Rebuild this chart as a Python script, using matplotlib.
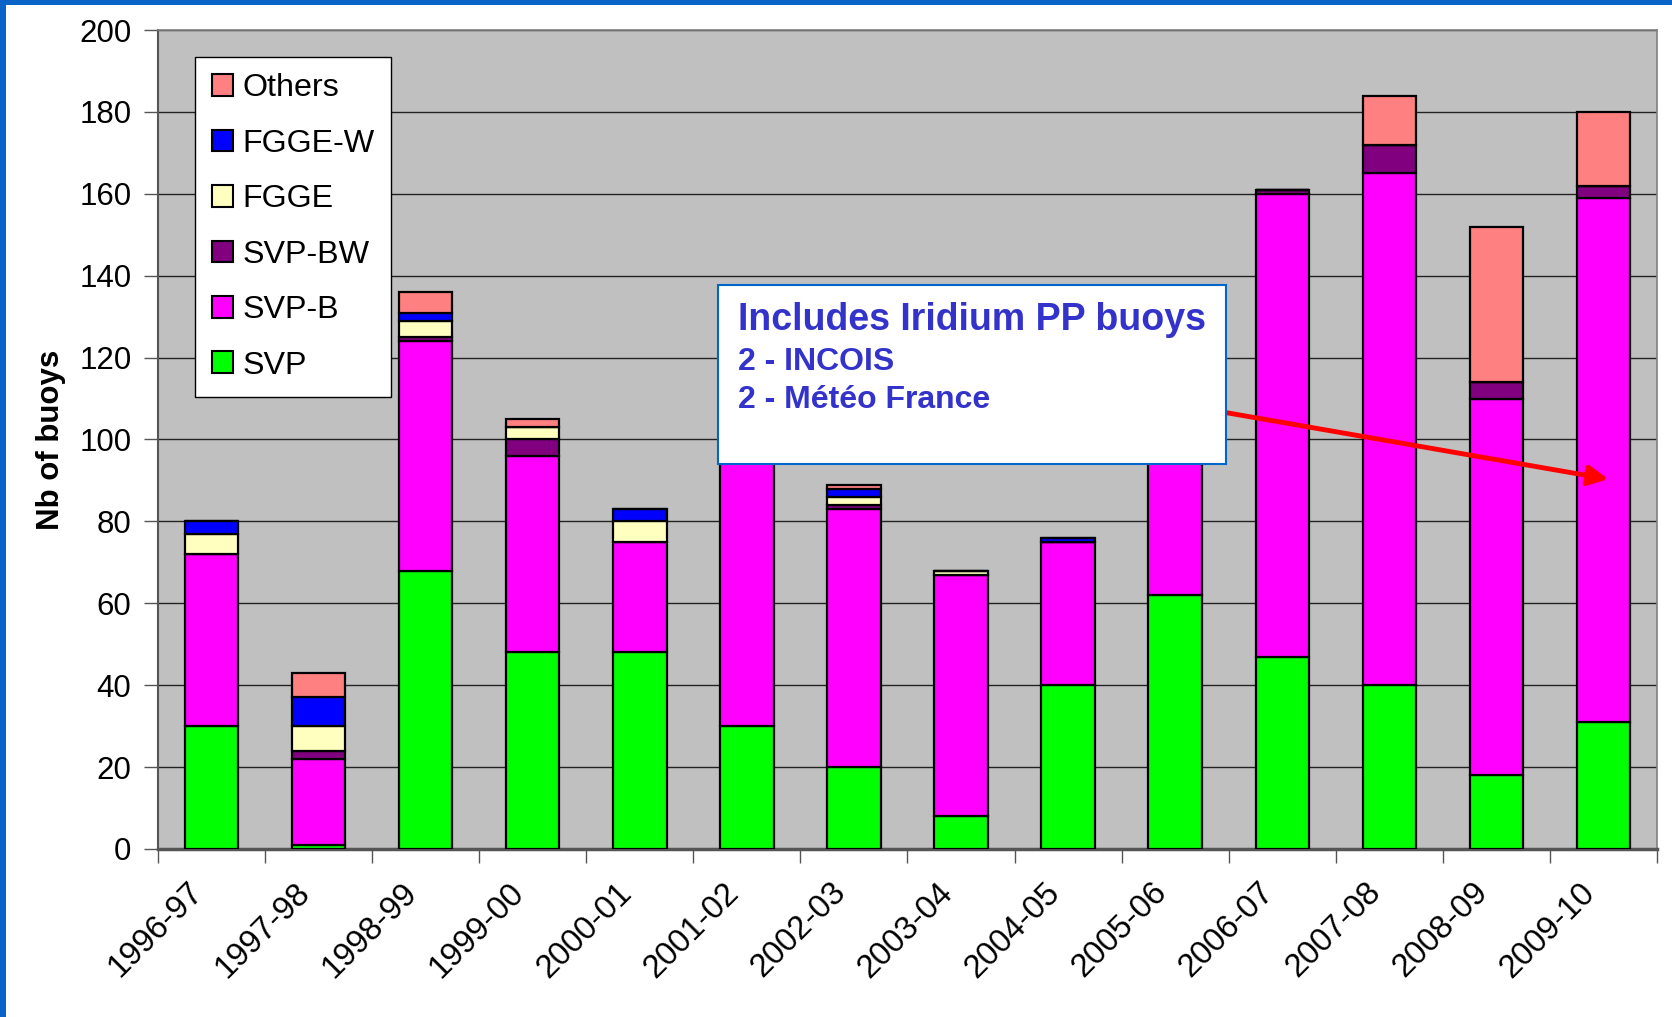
import matplotlib
matplotlib.use('Agg')
import matplotlib.pyplot as plt
import matplotlib.patches as mpatches
import matplotlib.transforms as mtransforms
import numpy as np

plt.rcParams['font.family'] = ['Liberation Sans', 'DejaVu Sans']

# Data
seasons = ['1996-97', '1997-98', '1998-99', '1999-00', '2000-01', '2001-02', '2002-03',
           '2003-04', '2004-05', '2005-06', '2006-07', '2007-08', '2008-09', '2009-10']
svp = [30, 1, 68, 48, 48, 30, 20, 8, 40, 62, 47, 40, 18, 31]
svp_b = [42, 21, 56, 48, 27, 80, 63, 59, 35, 58, 113, 125, 92, 128]
svp_bw = [0, 2, 1, 4, 0, 0, 1, 0, 0, 0, 1, 7, 4, 3]
fgge = [5, 6, 4, 3, 5, 0, 2, 1, 0, 0, 0, 0, 0, 0]
fgge_w = [3, 7, 2, 0, 3, 0, 2, 0, 1, 0, 0, 0, 0, 0]
others = [0, 6, 5, 2, 0, 0, 1, 0, 0, 0, 0, 12, 38, 18]

series_names = ['SVP', 'SVP-B', 'SVP-BW', 'FGGE', 'FGGE-W', 'Others']
series_colors = ['#00FF00', '#FF00FF', '#800080', '#FFFFC0', '#0000FF', '#FF8080']

fig = plt.figure(figsize=(16.72, 10.17), dpi=100)
ax = fig.add_axes([0.0944, 0.1652, 0.8967, 0.8053])
ax.set_facecolor('#C0C0C0')

# blue slide frame on top and left
fig.patches.append(mpatches.Rectangle((0, 0), 0.0036, 1, transform=fig.transFigure,
                                      facecolor='#0A64C8', edgecolor='none'))
fig.patches.append(mpatches.Rectangle((0, 0.995), 1, 0.005, transform=fig.transFigure,
                                      facecolor='#0A64C8', edgecolor='none'))

x = np.arange(len(seasons))
bottom = np.zeros(len(seasons))
for vals, name, col in zip([svp, svp_b, svp_bw, fgge, fgge_w, others], series_names, series_colors):
    v = np.array(vals, dtype=float)
    ax.bar(x, v, 0.5, bottom=bottom, color=col, edgecolor='black', linewidth=1.6, zorder=3)
    bottom += v

ax.set_xlim(-0.5, len(seasons) - 0.5)
ax.set_ylim(0, 200)
ax.set_yticks(np.arange(0, 201, 20))
ax.yaxis.grid(True, color='#222222', linewidth=1.0, zorder=1)
ax.set_axisbelow(True)

ax.set_xticks(x)
ax.set_xticklabels(seasons, rotation=45, ha='right', va='top', rotation_mode='anchor')
ax.set_xticks(np.arange(-0.5, len(seasons)), minor=True)
ax.tick_params(axis='x', which='major', length=0, pad=20, labelsize=23.5)
ax.tick_params(axis='x', which='minor', length=10, width=1, color='#555555', direction='out')
ax.tick_params(axis='y', length=10, width=1, color='#555555', pad=9, labelsize=22.5)
# shift the slanted labels a little to the left
shift = mtransforms.ScaledTranslation(-0.24, 0, fig.dpi_scale_trans)
for lbl in ax.get_xticklabels():
    lbl.set_transform(lbl.get_transform() + shift)

for side in ['top', 'right']:
    ax.spines[side].set_color('#808080')
    ax.spines[side].set_linewidth(1.2)
ax.spines['left'].set_color('#555555')
ax.spines['left'].set_linewidth(1.5)
ax.spines['bottom'].set_color('#555555')
ax.spines['bottom'].set_linewidth(2.5)

ax.set_ylabel('Nb of buoys', fontsize=22.5, fontweight='bold')
ax.yaxis.set_label_coords(-0.061, 0.5)

# legend (top entry first)
handles = [mpatches.Patch(facecolor=c, edgecolor='black', linewidth=1.5, label=n)
           for n, c in zip(series_names, series_colors)][::-1]
leg = ax.legend(handles=handles, loc='upper left', bbox_to_anchor=(0.0248, 0.9676),
                borderaxespad=0, fontsize=23.2, frameon=True, fancybox=False,
                framealpha=1, edgecolor='black', handlelength=0.65, handleheight=0.65,
                handletextpad=0.3, labelspacing=0.79, borderpad=0.52)
leg.get_frame().set_linewidth(1.0)
leg.set_zorder(6)

# annotation box and arrow
ax.annotate('', xy=(13.07, 90.2), xytext=(8.5, 111.0),
            arrowprops=dict(arrowstyle='-|>', color='red', lw=3.5, mutation_scale=30),
            zorder=4)
ax.add_patch(mpatches.Rectangle((0.3734, 0.4703), 0.3393, 0.2187, transform=ax.transAxes,
                                facecolor='white', edgecolor='#0066CC', linewidth=1.5, zorder=5))
txt_col = '#3333CC'
ax.text(0.387, 0.646, 'Includes Iridium PP buoys', transform=ax.transAxes, fontsize=27,
        fontweight='bold', color=txt_col, va='center', ha='left', zorder=6)
ax.text(0.387, 0.595, '2 - INCOIS', transform=ax.transAxes, fontsize=23,
        fontweight='bold', color=txt_col, va='center', ha='left', zorder=6)
ax.text(0.387, 0.548, '2 - Météo France', transform=ax.transAxes, fontsize=23,
        fontweight='bold', color=txt_col, va='center', ha='left', zorder=6)

plt.savefig('out.png', dpi=100)
